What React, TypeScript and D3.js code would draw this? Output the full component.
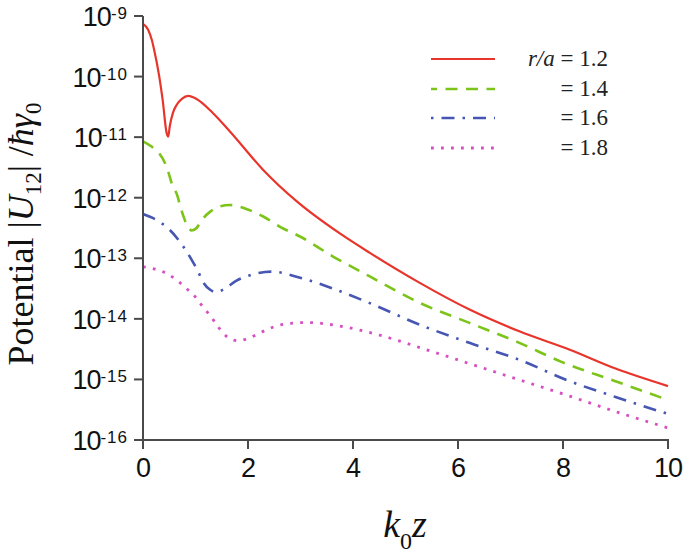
import React from "react";
import * as d3 from "d3";

// x positions (k0 z) and |U12|/ħγ0 values for each r/a
const redX = [0, 0.1, 0.17, 0.21, 0.31, 0.375, 0.45, 0.48, 0.51, 0.57, 0.64, 0.74, 0.86, 1.02, 1.33, 1.66, 2.29, 2.93, 3.75, 4.32, 5.28, 6.23, 7.18, 8.13, 9, 10];
const redY = [7.41e-10, 5.89e-10, 3.98e-10, 2.82e-10, 1.0e-10, 4.07e-11, 1.17e-11, 1.02e-11, 1.51e-11, 2.51e-11, 3.39e-11, 4.27e-11, 4.79e-11, 4.27e-11, 2.51e-11, 1.23e-11, 2.88e-12, 8.7e-13, 2.57e-13, 1.23e-13, 3.89e-14, 1.41e-14, 6.17e-15, 3.09e-15, 1.51e-15, 7.76e-16];

const greenX = [0, 0.17, 0.31, 0.42, 0.48, 0.57, 0.64, 0.73, 0.87, 0.93, 1.02, 1.12, 1.28, 1.47, 1.66, 1.85, 2.04, 2.29, 2.61, 2.99, 3.62, 4.32, 5.28, 6.23, 7.18, 7.97, 9, 10];
const greenY = [8.51e-12, 6.92e-12, 5.37e-12, 3.72e-12, 2.69e-12, 1.51e-12, 1.17e-12, 6.31e-13, 3.16e-13, 2.88e-13, 3.16e-13, 4.27e-13, 5.89e-13, 7.24e-13, 7.59e-13, 7.08e-13, 6.17e-13, 4.9e-13, 3.31e-13, 2.29e-13, 1.07e-13, 5.01e-14, 1.82e-14, 8.51e-15, 3.98e-15, 1.95e-15, 9.33e-16, 4.57e-16];

const blueX = [0, 0.26, 0.51, 0.77, 0.93, 1.05, 1.15, 1.28, 1.39, 1.56, 1.78, 2.04, 2.45, 2.99, 3.62, 4.32, 5.28, 6.23, 7.18, 8.07, 9, 10];
const blueY = [5.37e-13, 4.27e-13, 2.95e-13, 1.55e-13, 9.33e-14, 6.03e-14, 3.98e-14, 3.02e-14, 2.75e-14, 3.16e-14, 4.27e-14, 5.25e-14, 6.03e-14, 4.79e-14, 3.16e-14, 1.82e-14, 7.94e-15, 3.98e-15, 2.09e-15, 9.77e-16, 5.13e-16, 2.69e-16];

const magentaX = [0, 0.23, 0.45, 0.64, 0.83, 0.99, 1.14, 1.29, 1.43, 1.58, 1.8, 2.02, 2.23, 2.67, 3.12, 3.82, 4.51, 5.4, 6.29, 7.18, 8.07, 9, 10];
const magentaY = [7.24e-14, 6.61e-14, 5.62e-14, 4.37e-14, 3.16e-14, 2.34e-14, 1.58e-14, 1.1e-14, 7.41e-15, 5.25e-15, 4.37e-15, 4.79e-15, 5.89e-15, 8.13e-15, 8.71e-15, 7.41e-15, 5.37e-15, 3.09e-15, 1.74e-15, 9.77e-16, 5.5e-16, 2.95e-16, 1.58e-16];

const legendLabels = ["= 1.2", "= 1.4", "= 1.6", "= 1.8"];
const xTicks = [0, 2, 4, 6, 8, 10];
const yTickExps = [-9, -10, -11, -12, -13, -14, -15, -16];

const series = [
  { xs: redX, ys: redY, color: "#e8352b", width: 2.2, dash: "none", legDash: "none", legOffset: 0 },
  { xs: greenX, ys: greenY, color: "#7cc41a", width: 2.6, dash: "12,8.5", legDash: "12,8.5", legOffset: 6 },
  { xs: blueX, ys: blueY, color: "#4656b2", width: 2.6, dash: "13,8,2.5,8", legDash: "2.5,8,13,8", legOffset: 0 },
  { xs: magentaX, ys: magentaY, color: "#d650c2", width: 2.8, dash: "2.8,7.2", legDash: "2.8,7.2", legOffset: 0 },
];

export default function App() {
  const W = 685, H = 556;
  const x = d3.scaleLinear().domain([0, 10]).range([143, 668]);
  const y = d3.scaleLog().domain([1e-16, 1e-9]).range([440, 16]);
  const axisColor = "#4a4a4a";
  const sans = "'Liberation Sans', Arial, sans-serif";
  const serif = "'Liberation Serif', 'Times New Roman', serif";

  const line = d3
    .line<[number, number]>()
    .x((d) => x(d[0]))
    .y((d) => y(d[1]))
    .curve(d3.curveMonotoneX);

  const legendY = [59, 89, 118, 148];

  return (
    <svg width={W} height={H} style={{ position: "absolute", left: 0, top: 0, background: "#fff" }}>
      {/* curves */}
      {series.map((s, i) => (
        <path
          key={i}
          d={line(s.xs.map((v, j) => [v, s.ys[j]] as [number, number])) || ""}
          fill="none"
          stroke={s.color}
          strokeWidth={s.width}
          strokeDasharray={s.dash}
        />
      ))}

      {/* axes */}
      <line x1={143} x2={143} y1={y(1e-9)} y2={441} stroke={axisColor} strokeWidth={2} />
      <line x1={134} x2={669} y1={440} y2={440} stroke={axisColor} strokeWidth={2} />
      {yTickExps.map((e) => (
        <g key={e}>
          <line x1={134} x2={143} y1={y(Math.pow(10, e))} y2={y(Math.pow(10, e))} stroke={axisColor} strokeWidth={2} />
          <text x={128} y={y(Math.pow(10, e)) + 10} textAnchor="end" fontFamily={sans} fontSize={27} letterSpacing={-1} fill="#111">
            10
            <tspan fontSize={17} letterSpacing={1} dy={-7}>{String(e)}</tspan>
          </text>
        </g>
      ))}
      {xTicks.map((t) => (
        <g key={t}>
          <line x1={x(t)} x2={x(t)} y1={440} y2={449} stroke={axisColor} strokeWidth={2} />
          <text x={x(t)} y={477} textAnchor="middle" fontFamily={sans} fontSize={27} letterSpacing={-1} fill="#111">
            {t}
          </text>
        </g>
      ))}

      {/* x label */}
      <text x={405} y={537} textAnchor="middle" fontFamily={serif} fontSize={38} fill="#111">
        <tspan fontStyle="italic">k</tspan>
        <tspan fontSize={24} dy={12}>0</tspan>
        <tspan fontStyle="italic" dy={-12}>z</tspan>
      </text>

      {/* y label */}
      <text
        transform="translate(33,234) rotate(-90)"
        textAnchor="middle"
        fontFamily={serif}
        fontSize={36}
        fill="#111"
      >
        Potential |<tspan fontStyle="italic">U</tspan>
        <tspan fontSize={23} dy={8}>12</tspan>
        <tspan dy={-8}>| /</tspan>
        <tspan fontStyle="italic">ħγ</tspan>
        <tspan fontSize={23} dy={8}>0</tspan>
      </text>

      {/* legend */}
      {series.map((s, i) => (
        <g key={"leg" + i}>
          <line
            x1={431}
            x2={495}
            y1={legendY[i]}
            y2={legendY[i]}
            stroke={s.color}
            strokeWidth={s.width}
            strokeDasharray={s.legDash}
            strokeDashoffset={s.legOffset}
          />
          <text x={608} y={legendY[i] + 7} textAnchor="end" fontFamily={serif} fontSize={23} fill="#222">
            {i === 0 ? <tspan fontStyle="italic">r/a </tspan> : null}
            {legendLabels[i]}
          </text>
        </g>
      ))}
    </svg>
  );
}
